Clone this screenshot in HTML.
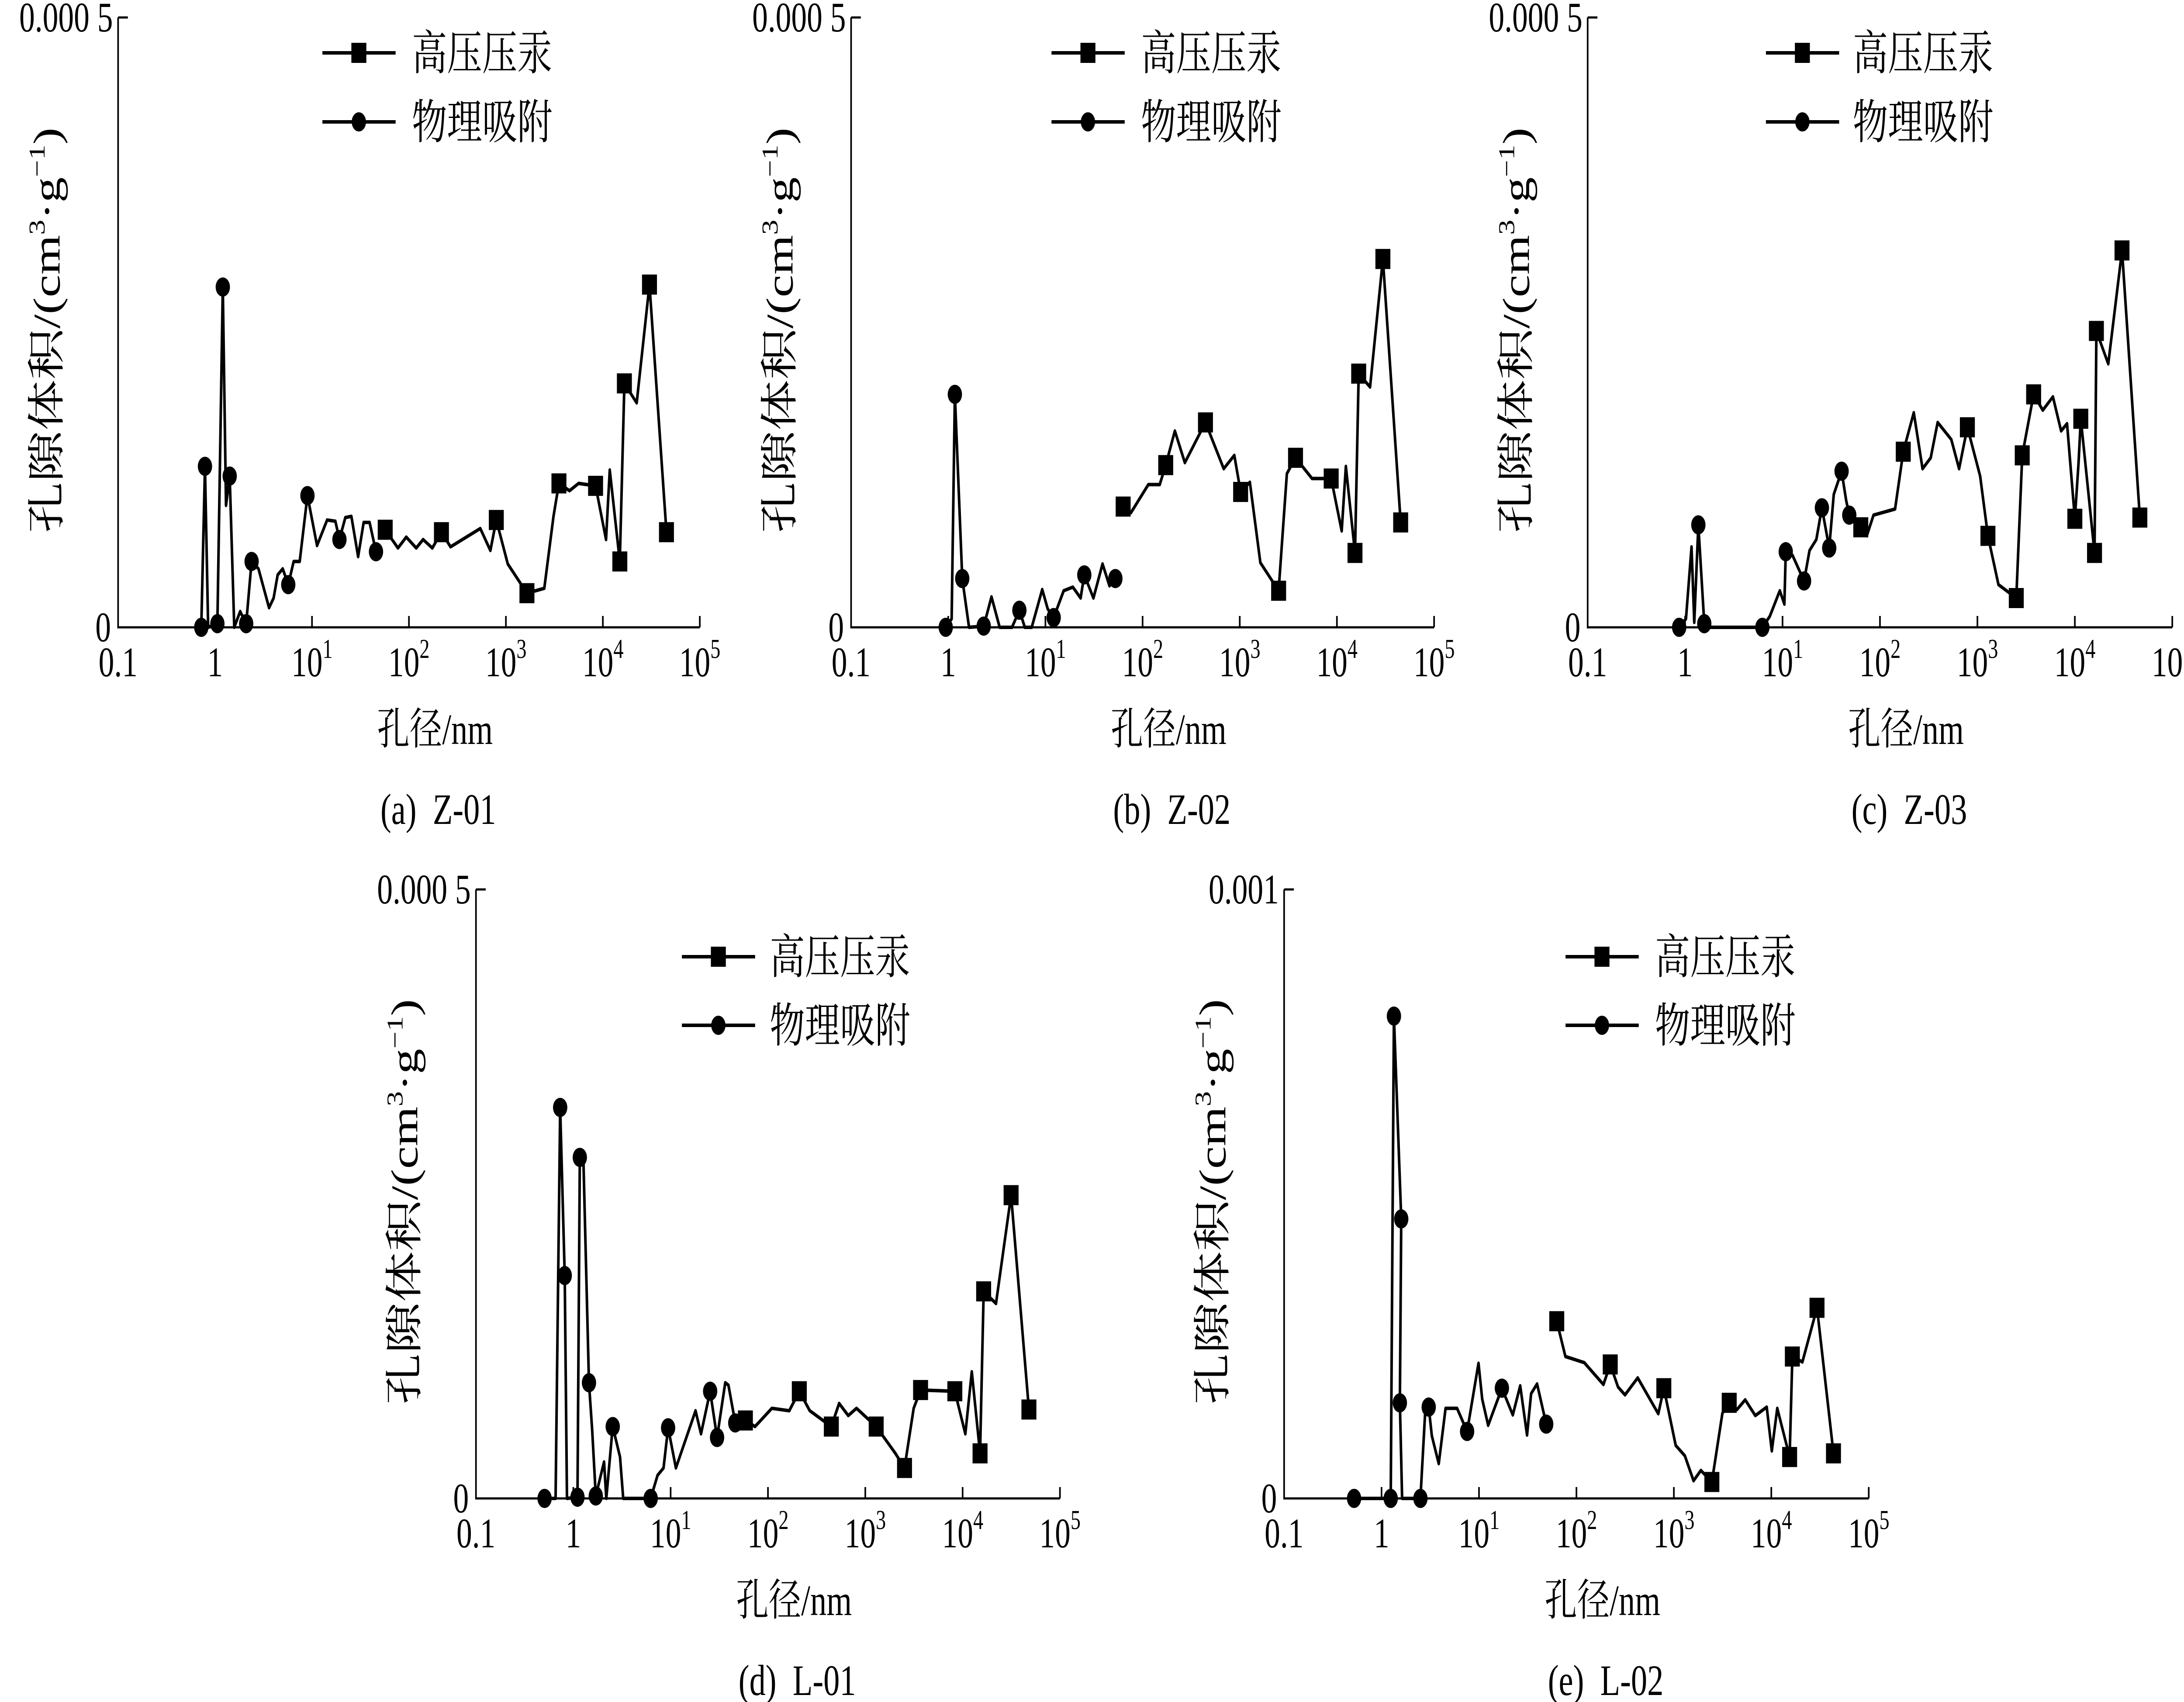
<!DOCTYPE html>
<html><head><meta charset="utf-8"><title>孔隙体积分布</title>
<style>
html,body{margin:0;padding:0;background:#fff;width:100%;height:100%;overflow:hidden;}
svg{display:block;position:absolute;left:0;top:0;width:100vw;height:100vh;}
text{font-family:"Liberation Serif","Noto Serif CJK SC","Noto Sans CJK SC",serif;fill:#000;}
</style></head>
<body>
<svg id="fig" xmlns="http://www.w3.org/2000/svg" viewBox="0 0 6713 3896" preserveAspectRatio="none"></svg>
<script>
// x values are log10(pore diameter / nm); y values in units of 1e-5 cm3/g
const xTickExp = [-1, 0, 1, 2, 3, 4, 5];
const legendLabels = ["高压压汞", "物理吸附"];
const captions = ["(a)  Z-01", "(b)  Z-02", "(c)  Z-03", "(d)  L-01", "(e)  L-02"];
const yTopLabels = ["0.000 5", "0.000 5", "0.000 5", "0.000 5", "0.001"];
const yMaxValues = [50, 50, 50, 50, 100];

// (a) Z-01
const aPhysX = [-0.142,-0.104,-0.071,0.024,0.080,0.113,0.151,0.198,0.259,0.321,0.377,0.448,0.557,0.604,0.646,0.698,0.755,0.811,0.873,0.953,1.052,1.156,1.241,1.283,1.344,1.406,1.476,1.533,1.594,1.660];
const aPhysY = [0,13.2,0,0.3,27.9,10.0,12.4,0,1.3,0.3,5.4,4.8,1.6,2.4,4.3,4.8,3.5,5.4,5.4,10.8,6.7,8.8,8.7,7.2,9.0,9.1,5.8,8.6,8.6,6.2];
const aPhysM = [1,1,0,1,1,0,1,0,0,1,1,0,0,0,0,0,1,0,0,1,0,0,0,1,0,0,0,0,0,1];
const aHgX = [1.755,1.887,1.972,2.075,2.146,2.241,2.335,2.429,2.736,2.840,2.901,3.019,3.217,3.396,3.491,3.547,3.656,3.750,3.925,4.033,4.071,4.175,4.222,4.349,4.481,4.656];
const aHgY = [8.0,6.5,7.4,6.5,7.2,6.5,7.8,6.6,8.1,6.3,8.8,5.2,2.8,3.2,9.1,11.8,11.2,11.8,11.6,7.2,12.9,5.4,20.0,18.4,28.1,7.8];
const aHgM = [1,0,0,0,0,0,1,0,0,0,1,0,1,0,0,1,0,0,1,0,0,1,1,0,1,1];

// (b) Z-02
const bPhysX = [-0.026,0.035,0.068,0.144,0.214,0.365,0.445,0.529,0.656,0.732,0.788,0.859,0.967,1.024,1.085,1.188,1.282,1.362,1.400,1.494,1.588,1.659,1.720];
const bPhysY = [0,0.7,19.1,4.0,0,0.1,2.5,0,0,1.4,0,0,3.1,1.5,0.8,3.0,3.3,2.4,4.3,2.4,5.2,3.4,4.0];
const bPhysM = [1,0,1,1,0,1,0,0,0,1,0,0,0,0,1,0,0,0,1,0,0,0,1];
const bHgX = [1.800,1.880,2.059,2.176,2.238,2.332,2.435,2.647,2.835,2.944,3.009,3.104,3.212,3.400,3.485,3.574,3.744,3.941,4.049,4.092,4.186,4.224,4.341,4.473,4.656];
const bHgY = [9.9,9.4,11.7,11.7,13.3,16.1,13.5,16.8,13.0,14.1,11.1,11.9,5.3,3.0,12.6,13.9,12.2,12.2,7.9,13.2,6.1,20.8,19.7,30.2,8.6];
const bHgM = [1,0,0,0,1,0,0,1,0,0,1,0,0,1,0,1,0,1,0,0,1,1,0,1,1];

// (c) Z-03
const cPhysX = [-0.061,0.009,0.066,0.094,0.136,0.197,0.221,0.793,0.869,0.972,1.019,1.033,1.103,1.221,1.277,1.347,1.404,1.479,1.526,1.606,1.653,1.685];
const cPhysY = [0,0.7,6.6,0.4,8.4,0.3,0,0,0.9,3.0,1.9,6.2,5.9,3.8,6.3,7.2,9.8,6.5,10.9,12.8,10.4,9.2];
const cPhysM = [1,0,0,0,1,1,0,1,0,0,0,1,0,1,0,0,1,1,0,1,0,1];
const cHgX = [1.803,1.864,1.934,2.155,2.239,2.347,2.437,2.521,2.592,2.732,2.812,2.897,3.028,3.108,3.216,3.399,3.460,3.577,3.671,3.775,3.859,3.920,4.000,4.038,4.061,4.202,4.221,4.343,4.484,4.667];
const cHgY = [8.2,7.5,9.2,9.7,14.4,17.6,13.0,13.9,16.8,15.4,13.0,16.4,12.4,7.5,3.5,2.4,14.1,19.1,17.8,18.9,16.1,16.7,8.9,13.5,17.1,6.1,24.3,21.6,30.9,9.0];
const cHgM = [1,0,0,0,1,0,0,0,0,0,0,1,0,1,0,1,1,1,0,0,0,0,1,0,1,1,1,0,1,1];

// (d) L-01
const dPhysX = [-0.295,-0.182,-0.135,-0.088,-0.065,0.043,0.067,0.104,0.161,0.194,0.231,0.316,0.339,0.405,0.480,0.513,0.795,0.866,0.927,0.974,1.054,1.256,1.312,1.406,1.477,1.561,1.594,1.664];
const dPhysY = [0,0,32.1,18.3,0,0.1,28.0,27.7,9.5,5.6,0.2,3.0,0,5.9,3.4,0,0,1.9,2.5,5.8,2.5,7.2,5.3,8.8,5.0,9.5,9.3,6.2];
const dPhysM = [1,0,1,1,0,1,1,0,1,0,1,0,0,1,0,0,1,0,0,1,0,0,0,1,1,0,0,1];
const dHgX = [1.768,1.867,2.040,2.219,2.322,2.430,2.651,2.731,2.825,2.910,3.112,3.309,3.403,3.497,3.568,3.920,4.028,4.094,4.179,4.216,4.343,4.498,4.681];
const dHgY = [6.4,5.9,7.4,7.2,8.8,7.2,5.9,7.8,6.8,7.4,5.9,3.7,2.5,7.4,8.9,8.8,5.3,10.4,3.7,17.0,16.0,24.9,7.3];
const dHgM = [1,0,0,0,1,0,1,0,0,0,1,0,1,0,1,1,0,0,1,1,0,1,1];

// (e) L-02
const ePhysX = [-0.282,0.094,0.127,0.202,0.188,0.211,0.399,0.446,0.484,0.516,0.587,0.657,0.775,0.878,0.995,1.033,1.094,1.235,1.347,1.423,1.493,1.535,1.596,1.690];
const ePhysY = [0,0,79.2,45.9,15.7,0,0,13.7,15.0,10.3,5.7,14.8,14.8,11.0,22.2,16.3,12.0,18.1,13.7,18.5,10.4,17.2,18.8,12.2];
const ePhysM = [1,1,1,1,1,0,1,0,1,0,0,0,0,1,0,0,0,1,0,0,0,0,0,1];
const eHgX = [1.798,1.887,2.080,2.277,2.347,2.427,2.498,2.629,2.840,2.897,3.019,3.113,3.202,3.277,3.390,3.498,3.568,3.648,3.732,3.836,3.953,4.005,4.061,4.188,4.216,4.319,4.469,4.638];
const eHgY = [29.1,23.3,22.3,18.7,22.0,18.3,17.0,19.8,13.9,18.1,8.7,7.0,2.9,4.6,2.7,14.0,15.7,14.6,16.2,13.6,15.0,7.8,14.8,6.8,23.3,22.4,31.3,7.4];
const eHgM = [1,0,0,0,1,0,0,0,0,1,0,0,0,0,1,0,1,0,0,0,0,0,0,1,1,0,1,1];

const physXs = [aPhysX, bPhysX, cPhysX, dPhysX, ePhysX];
const physYs = [aPhysY, bPhysY, cPhysY, dPhysY, ePhysY];
const physMs = [aPhysM, bPhysM, cPhysM, dPhysM, ePhysM];
const hgXs = [aHgX, bHgX, cHgX, dHgX, eHgX];
const hgYs = [aHgY, bHgY, cHgY, dHgY, eHgY];
const hgMs = [aHgM, bHgM, cHgM, dHgM, eHgM];

// layout (pixels in 6713x3896 frame)
const layout = [
  {x0:363,  x1:2151, yT:40,   y0:1436, lgX:628, lgTx:903, lgY1:81,  lgY2:239},
  {x0:2616, x1:4408, yT:40,   y0:1436, lgX:616, lgTx:891, lgY1:81,  lgY2:239},
  {x0:4880, x1:6677, yT:40,   y0:1436, lgX:548, lgTx:815, lgY1:81,  lgY2:239},
  {x0:1463, x1:3258, yT:2036, y0:3430, lgX:633, lgTx:903, lgY1:154, lgY2:311},
  {x0:3947, x1:5744, yT:2036, y0:3430, lgX:865, lgTx:1140,lgY1:154, lgY2:311}
];

const NS = "http://www.w3.org/2000/svg";
const svg = document.getElementById('fig');
function mk(tag, attrs, parent) {
  const e = document.createElementNS(NS, tag);
  for (const k in attrs) e.setAttribute(k, attrs[k]);
  (parent || svg).appendChild(e);
  return e;
}
function sx(L, lx) { return L.x0 + (lx - xTickExp[0]) / (xTickExp[xTickExp.length-1] - xTickExp[0]) * (L.x1 - L.x0); }
function sy(L, v, ymax) { return L.y0 - v / ymax * (L.y0 - L.yT); }

function drawMarker(g, kind, x, y) {
  let m;
  if (kind === 'sq') {
    m = mk('rect', {x:x-23, y:y-23, width:46, height:46, fill:'#000'}, g);
    
  } else {
    m = mk('circle', {cx:x, cy:y, r:22, fill:'#000'}, g);
    
  }
  
}

layout.forEach((L, i) => {
  const ymax = yMaxValues[i];
  const g = mk('g', {});
  
  

  const ax = mk('path', {d:`M${L.x0},${L.yT} V${L.y0} H${L.x1}`, fill:'none', stroke:'#000', 'stroke-width':5}, g);
  
  
  const yt = mk('line', {x1:L.x0, y1:L.yT, x2:L.x0+30, y2:L.yT, stroke:'#000', 'stroke-width':5}, g);
  
  

  xTickExp.forEach((e, k) => {
    const x = sx(L, e);
    if (k > 0) {
      const t = mk('line', {x1:x, y1:L.y0, x2:x, y2:L.y0-26, stroke:'#000', 'stroke-width':5}, g);
      
      
    }
    const lab = mk('text', {x:x, y:L.y0+112, 'font-size':96, 'text-anchor':'middle'}, g);
    
    
    if (e === -1) lab.textContent = '0.1';
    else if (e === 0) lab.textContent = '1';
    else {
      lab.appendChild(document.createTextNode('10'));
      const s = mk('tspan', {'font-size':62, dy:-42}, lab);
      s.textContent = String(e);
    }
  });

  const y0l = mk('text', {x:L.x0-22, y:L.y0+32, 'font-size':96, 'text-anchor':'end'}, g);
  
  
  y0l.textContent = '0';
  const ytl = mk('text', {x:L.x0-16, y:L.yT+32, 'font-size':96, 'text-anchor':'end'}, g);
  
  
  ytl.textContent = yTopLabels[i];

  const cx = L.x0 - 180, cy = (L.yT + L.y0) / 2 + 18;
  const yTitle = mk('text', {x:cx, y:cy, 'font-size':117, 'text-anchor':'middle', transform:`rotate(-90 ${cx} ${cy})`}, g);
  
  
  yTitle.appendChild(document.createTextNode('孔隙体积/(cm'));
  const s1 = mk('tspan', {'font-size':70, dy:-46}, yTitle); s1.textContent = '3';
  const s2 = mk('tspan', {dy:46}, yTitle); s2.textContent = '·g';
  const s3 = mk('tspan', {'font-size':70, dy:-46}, yTitle); s3.textContent = '−1';
  const s4 = mk('tspan', {dy:46}, yTitle); s4.textContent = ')';

  const xt = mk('text', {x:(L.x0+L.x1)/2 + 80, y:L.y0+267, 'font-size':100, 'text-anchor':'middle'}, g);
  
  
  xt.textContent = '孔径/nm';

  const cap = mk('text', {x:(L.x0+L.x1)/2 + 90, y:L.y0+450, 'font-size':100, 'text-anchor':'middle', 'xml:space':'preserve', style:'white-space:pre'}, g);
  
  
  cap.textContent = captions[i];

  const series = [
    {xs:physXs[i], ys:physYs[i], ms:physMs[i], kind:'ci', name:'adsorption-series'},
    {xs:hgXs[i], ys:hgYs[i], ms:hgMs[i], kind:'sq', name:'mercury-series'}
  ];
  series.forEach(s => {
    const sg = mk('g', {}, g);
    
    
    const pts = s.xs.map((x, k) => sx(L, x).toFixed(1) + ',' + sy(L, s.ys[k], ymax).toFixed(1)).join(' ');
    const pl = mk('polyline', {points:pts, fill:'none', stroke:'#000', 'stroke-width':8, 'stroke-linejoin':'round'}, sg);
    
    
    s.xs.forEach((x, k) => { if (s.ms[k]) drawMarker(sg, s.kind, sx(L, x), sy(L, s.ys[k], ymax)); });
  });

  const lg = mk('g', {}, g);
  
  
  [L.lgY1, L.lgY2].forEach((dy, k) => {
    const y = L.yT + dy;
    const lx = L.x0 + L.lgX;
    const ln = mk('line', {x1:lx, y1:y, x2:lx+225, y2:y, stroke:'#000', 'stroke-width':8}, lg);
    
    
    drawMarker(lg, k === 0 ? 'sq' : 'ci', lx + 112, y);
    const tx = mk('text', {x:L.x0 + L.lgTx, y:y+38, 'font-size':108}, lg);
    
    
    tx.textContent = legendLabels[k];
  });
});
</script>
</body></html>
